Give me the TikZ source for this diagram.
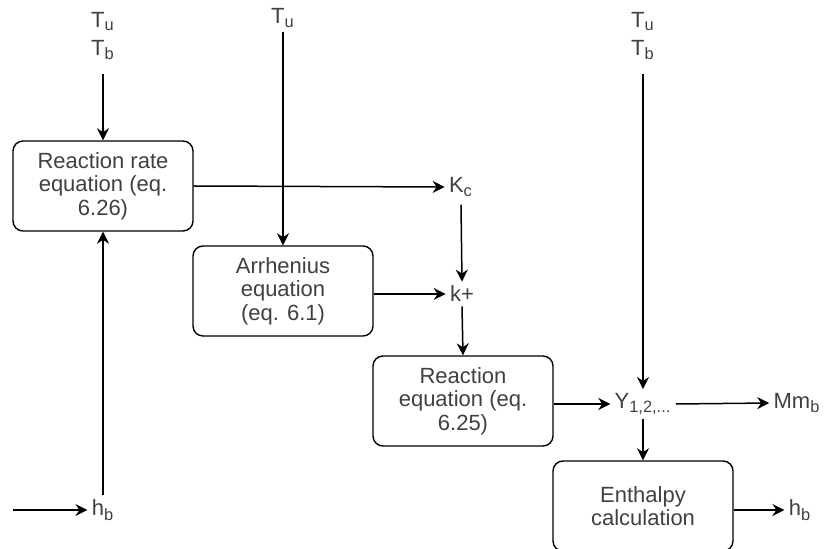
\documentclass[tikz,border=0pt]{standalone}
\usepackage{fontspec}
\setmainfont{Liberation Sans}
\usetikzlibrary{arrows.meta}

\newcommand{\lsub}[1]{\textsubscript{\fontsize{8.2}{8.2}\selectfont#1}}

\tikzset{
	block/.style={draw, rounded corners=5pt, line width=0.7pt, minimum width=90pt, minimum height=45pt, inner sep=2pt, align=center, text=black!75, font=\fontsize{11}{11.8}\selectfont},
	lbl/.style={align=center, inner sep=2pt, text=black!75, font=\fontsize{11}{14}\selectfont},
	flow/.style={-{Stealth[length=6pt,width=6pt]}, line width=0.75pt}
}

\begin{document}
\begin{tikzpicture}[x=0.5pt, y=-0.5pt]
		\useasboundingbox (0,0) rectangle (828,549);
		\node[block] (rate) at (103,186) {Reaction rate\\equation (eq.\\6.26)};
		\node[block] (arrh) at (283,291) {Arrhenius\\equation\\(eq. 6.1)};
		\node[block] (reac) at (463,401) {Reaction\\equation (eq.\\6.25)};
		\node[block] (enth) at (643,506) {Enthalpy\\calculation};
		\node[lbl] (tin1) at (103,36) {T\lsub{u}\\T\lsub{b}};
		\node[lbl] (tin2) at (283,18) {T\lsub{u}};
		\node[lbl] (tin3) at (643,36) {T\lsub{u}\\T\lsub{b}};
		\node[lbl] (kc) at (461,187) {K\lsub{c}};
		\node[lbl] (kp) at (462,294) {k+};
		\node[lbl] (y) at (643,404) {Y\lsub{1,2,...}};
		\node[lbl] (mm) at (797,403) {Mm\lsub{b}};
		\node[lbl] (hin) at (103,510) {h\lsub{b}};
		\node[lbl] (hout) at (800,510) {h\lsub{b}};
		\coordinate (hsrc) at (13,510);
		\draw[flow] (tin1.south) ++(0,10) -- (rate.north);
		\draw[flow] (tin2.south) -- (arrh.north);
		\draw[flow] (tin3.south) ++(0,10) -- (y.north);
		\draw[flow] (rate.east) -- (kc.west);
		\draw[flow] (arrh.east |- kp) -- (kp.west);
		\draw[flow] (kc.south) ++(0,4) -- (kp.north);
		\draw[flow] (kp.south) -- (reac.north);
		\draw[flow] (reac.east |- y) -- (y.west);
		\draw[flow] (y.east) -- (mm.west);
		\draw[flow] (y.south) -- (enth.north);
		\draw[flow] (enth.east |- hout) -- (hout.west);
		\draw[flow] (hsrc) -- (hin.west);
		\draw[flow] (hin.north) -- (rate.south);
\end{tikzpicture}
\end{document}
